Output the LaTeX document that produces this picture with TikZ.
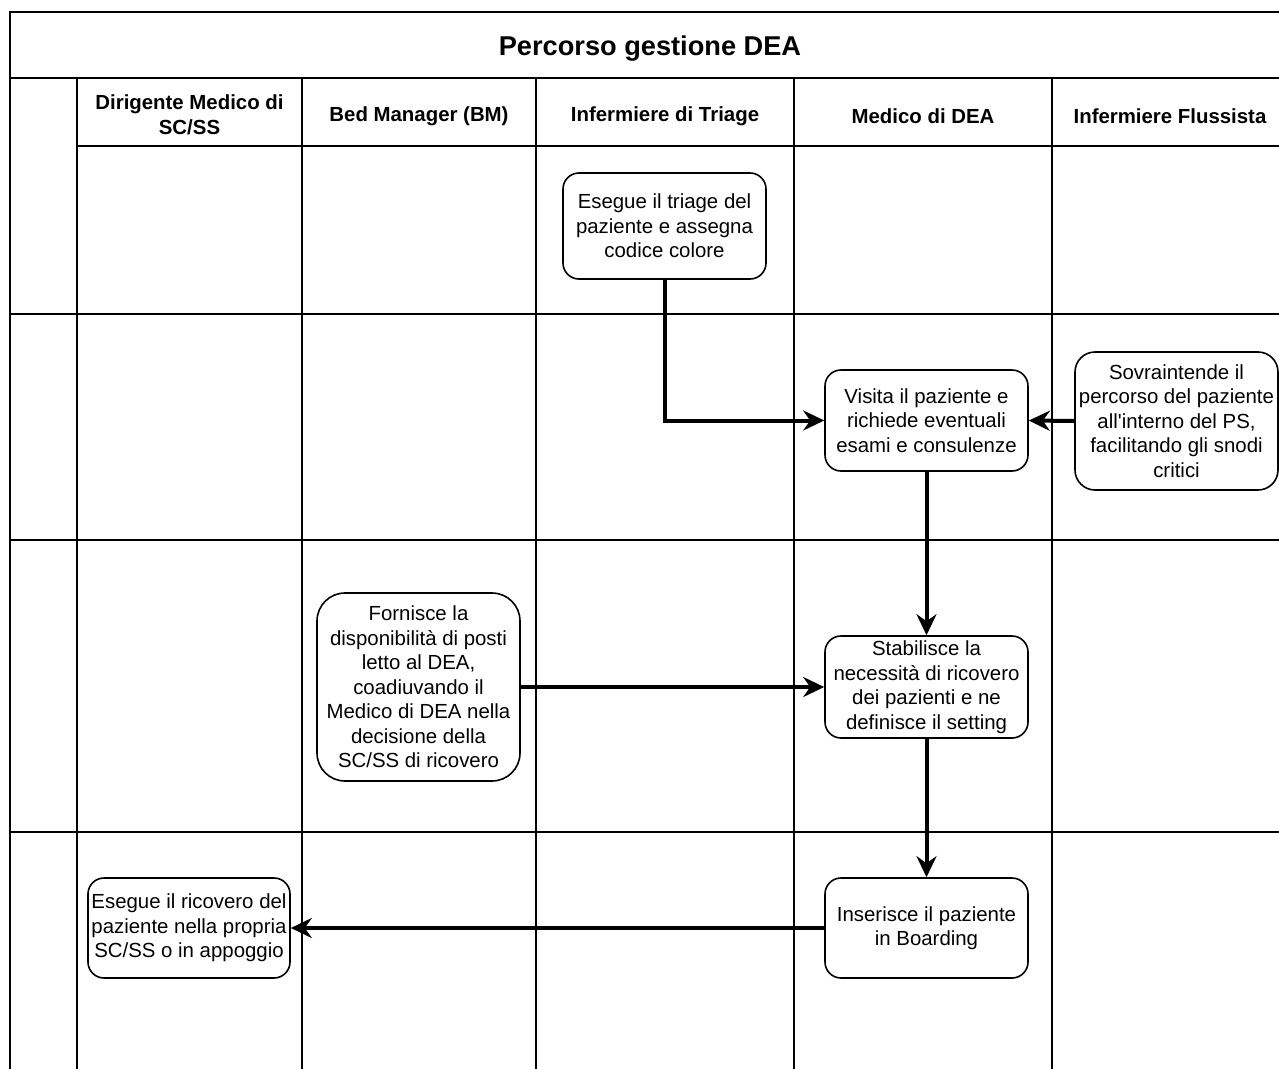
\documentclass[tikz,border=0pt]{standalone}
\usepackage{fontspec}
\setmainfont{Liberation Sans}
\usetikzlibrary{arrows.meta}

\begin{document}
\begin{tikzpicture}[x=1pt, y=-1pt,
    lane/.style={line width=1.6pt},
    task/.style={draw, line width=1.6pt, rounded corners=16pt, align=center, inner sep=2pt,
        minimum width=203pt, font=\fontsize{20.4}{24.5}\selectfont},
    flow/.style={line width=4pt, -{Stealth[length=21pt, width=20pt, inset=7pt]}},
    head/.style={align=center, font=\fontsize{20.4}{24.5}\selectfont\bfseries}]
                \useasboundingbox (0,0) rectangle (1279,1068);
                % frame and lanes
                \draw[lane] (1290,12) -- (10,12) -- (10,1075);
                \draw[lane] (10,78) -- (1290,78);
                \draw[lane] (77,146) -- (1290,146);
                \foreach \y in {314,540,832}
                    \draw[lane] (10,\y) -- (1290,\y);
                \foreach \x in {77,302,536,794,1052}
                    \draw[lane] (\x,78) -- (\x,1075);

                \node[font=\fontsize{27.2}{32}\selectfont\bfseries] (title) at (650,49) {Percorso gestione DEA};
                \node[head] (hdirigente) at (189.5,115) {Dirigente Medico di\\SC/SS};
                \node[head] (hbm) at (419,116) {Bed Manager (BM)};
                \node[head] (htriage) at (665,116) {Infermiere di Triage};
                \node[head] (hmedico) at (923,116) {Medico di DEA};
                \node[head] (hflussista) at (1170,116) {Infermiere Flussista};

                % activities
                \node[task, minimum height=106pt] (triage) at (664.5,226) {Esegue il triage del\\paziente e assegna\\codice colore};
                \node[task, minimum height=101pt] (visita) at (926.5,420.5) {Visita il paziente e\\richiede eventuali\\esami e consulenze};
                \node[task, minimum height=138pt, rounded corners=20pt] (sovra) at (1176.5,421) {Sovraintende il\\percorso del paziente\\all\textquotesingle interno del PS,\\facilitando gli snodi\\critici};
                \node[task, minimum height=188pt, rounded corners=28pt] (fornisce) at (418.5,687) {Fornisce la\\disponibilità di posti\\letto al DEA,\\coadiuvando il\\Medico di DEA nella\\decisione della\\SC/SS di ricovero};
                \node[task, minimum height=102pt] (stabilisce) at (926.5,687) {Stabilisce la\\necessità di ricovero\\dei pazienti e ne\\definisce il setting};
                \node[task, minimum height=100pt] (inserisce) at (926.5,928) {Inserisce il paziente\\in Boarding};
                \node[task, minimum height=100pt, minimum width=202pt] (ricovero) at (189,928) {Esegue il ricovero del\\paziente nella propria\\SC/SS o in appoggio};

                \draw[flow] (triage.south) |- (visita.west);
                \draw[flow] (sovra.west) -- (visita.east);
                \draw[flow] (visita.south) -- (stabilisce.north);
                \draw[flow] (fornisce.east) -- (stabilisce.west);
                \draw[flow] (stabilisce.south) -- (inserisce.north);
                \draw[flow] (inserisce.west) -- (ricovero.east);
            \end{tikzpicture}
\end{document}
